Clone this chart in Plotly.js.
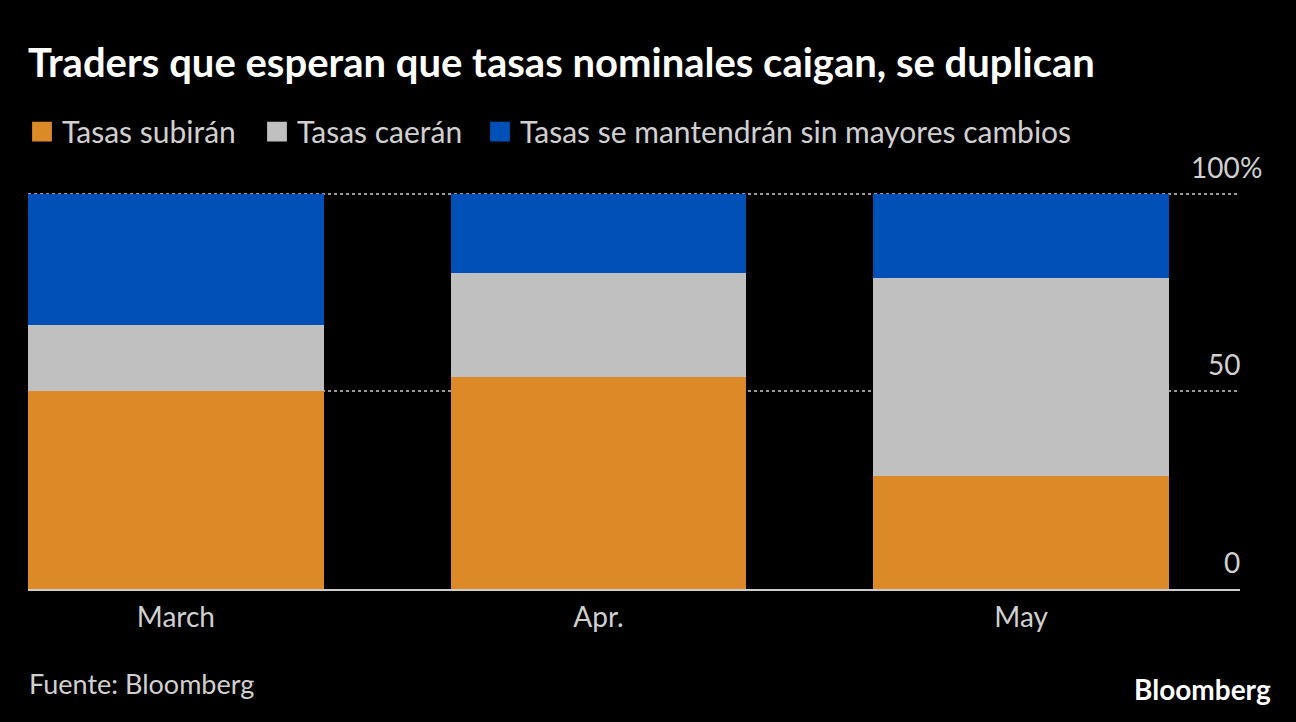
<!DOCTYPE html>
<html>
<head>
<meta charset="utf-8">
<script src="https://cdn.plot.ly/plotly-3.0.1.min.js"></script>
<style>
  html, body { margin: 0; padding: 0; background: #000; }
  #chart { width: 1296px; height: 722px; }
</style>
</head>
<body>
<div id="chart"></div>
<script>
const categories = ["March", "Apr.", "May"];
const seriesNames = ["Tasas subirán", "Tasas caerán", "Tasas se mantendrán sin mayores cambios"];
const subiran = [50, 53.6, 28.6];
const caeran = [16.7, 26.4, 50];
const mantendran = [33.3, 20, 21.4];
const seriesColors = ["#DB8A27", "#C0C0C0", "#0050B8"];
const yTickVals = [0, 50, 100];
const yTickText = ["0", "50", "100"];
const titleText = "Traders que esperan que tasas nominales caigan, se duplican";
const sourceText = "Fuente: Bloomberg";
const brandText = "Bloomberg";

const legendIds = ["legend", "legend2", "legend3"];
const values = [subiran, caeran, mantendran];
const traces = values.map((v, i) => ({
  type: "bar",
  name: seriesNames[i],
  x: categories,
  y: v,
  width: 0.7,
  legend: legendIds[i],
  marker: { color: seriesColors[i], line: { width: 0 } },
  hoverinfo: "skip"
}));

const fontFam = "Lato, 'Noto Sans', sans-serif";
const txtColor = "#d0d0d0";

const W = 1296, H = 722;
const mL = 28, mR = 56, mT = 191.5, mB = 132.5;
const plotW = W - mL - mR;
const plotH = H - mT - mB;
const px2x = px => (px - mL) / plotW;
const py2y = py => (H - mB - py) / plotH;

const legendLefts = [22, 257, 480];
function legendCfg(i) {
  return {
    orientation: "h",
    x: px2x(legendLefts[i]), xanchor: "left",
    y: py2y(131), yanchor: "middle",
    font: { family: fontFam, size: 30, color: txtColor },
    itemclick: false, itemdoubleclick: false,
    bgcolor: "rgba(0,0,0,0)"
  };
}

const layout = {
  width: W,
  height: H,
  paper_bgcolor: "#000",
  plot_bgcolor: "#000",
  barmode: "stack",
  margin: { l: mL, r: mR, t: mT, b: mB },
  showlegend: true,
  legend: legendCfg(0),
  legend2: legendCfg(1),
  legend3: legendCfg(2),
  title: {
    text: "<b>" + titleText + "</b>",
    x: 0, xanchor: "left", xref: "paper",
    y: 1 - 63 / H, yref: "container", yanchor: "middle",
    font: { family: fontFam, size: 40, color: "#ffffff" }
  },
  xaxis: {
    type: "category",
    range: [-0.35, 2.518],
    showgrid: false,
    zeroline: false,
    showline: true,
    linecolor: "#cccccc",
    linewidth: 2,
    ticks: "",
    ticklabelstandoff: 2,
    tickfont: { family: fontFam, size: 28, color: txtColor },
    fixedrange: true
  },
  yaxis: {
    range: [0, 100.4],
    side: "right",
    tickvals: yTickVals,
    showticklabels: false,
    ticks: "",
    showgrid: true,
    gridcolor: "#999999",
    griddash: "dot",
    gridwidth: 2,
    zeroline: false,
    showline: false,
    fixedrange: true
  },
  annotations: []
};

// y tick labels from the arrays, placed above their gridlines, right-aligned at the plot edge
yTickVals.forEach((v, i) => {
  layout.annotations.push({
    text: yTickText[i], xref: "paper", yref: "y", x: 1, y: v,
    xanchor: "right", yanchor: "middle", yshift: 27, xshift: 2,
    showarrow: false,
    font: { family: fontFam, size: 28, color: txtColor }
  });
});
layout.annotations.push({
  text: "%", xref: "paper", yref: "y", x: 1, y: 100,
  xanchor: "left", yanchor: "middle", yshift: 27, xshift: -2,
  showarrow: false,
  font: { family: fontFam, size: 28, color: txtColor }
});
layout.annotations.push({
  text: sourceText, xref: "paper", yref: "paper",
  x: px2x(27), y: py2y(684), xanchor: "left", yanchor: "middle",
  showarrow: false,
  font: { family: fontFam, size: 27, color: txtColor }
});
layout.annotations.push({
  text: "<b>" + brandText + "</b>", xref: "paper", yref: "paper",
  x: px2x(1273), y: py2y(690), xanchor: "right", yanchor: "middle",
  showarrow: false,
  font: { family: fontFam, size: 28, color: "#ffffff" }
});

Plotly.newPlot("chart", traces, layout, { displayModeBar: false, staticPlot: true }).then(() => {
  document.querySelectorAll(".legendpoints path").forEach(p => {
    const t = p.getAttribute("transform") || "";
    p.setAttribute("transform", t + " scale(1.65)");
  });
});
</script>
</body>
</html>
